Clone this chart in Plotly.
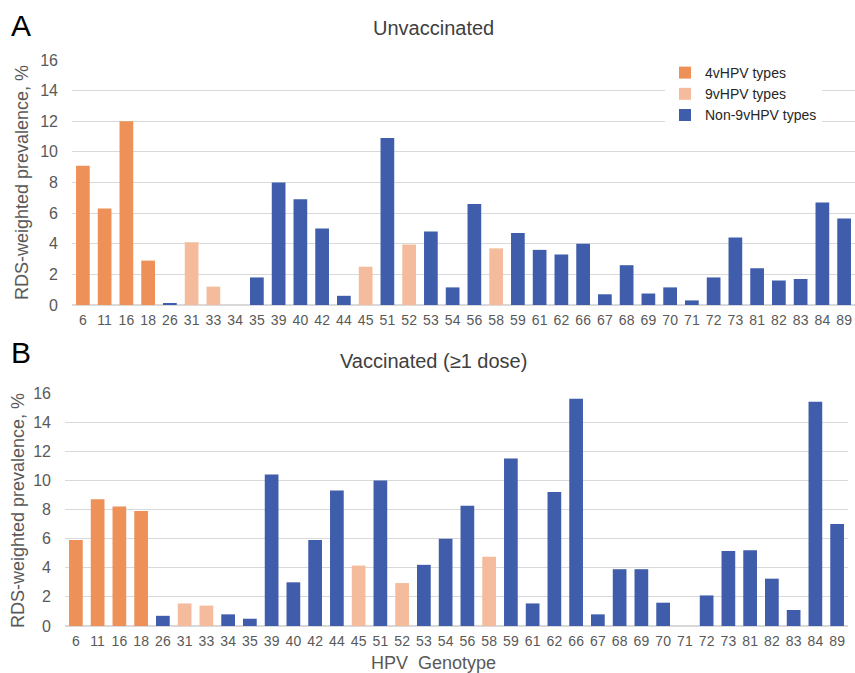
import plotly.graph_objects as go

genotypes = ["6", "11", "16", "18", "26", "31", "33", "34", "35", "39", "40", "42", "44", "45",
             "51", "52", "53", "54", "56", "58", "59", "61", "62", "66", "67", "68", "69", "70",
             "71", "72", "73", "81", "82", "83", "84", "89"]

unvaccinated = [9.1, 6.3, 12.0, 2.9, 0.07, 4.1, 1.2, 0.0, 1.8, 8.0, 6.9, 5.0, 0.6, 2.5,
                10.9, 3.95, 4.8, 1.15, 6.6, 3.7, 4.7, 3.6, 3.3, 4.0, 0.7, 2.6, 0.75, 1.15,
                0.3, 1.8, 4.4, 2.4, 1.6, 1.7, 6.7, 5.65]

vaccinated = [5.9, 8.7, 8.2, 7.9, 0.7, 1.55, 1.4, 0.8, 0.5, 10.4, 3.0, 5.9, 9.3, 4.15,
              10.0, 2.95, 4.2, 6.0, 8.25, 4.75, 11.5, 1.55, 9.2, 15.6, 0.8, 3.9, 3.9, 1.6,
              0.0, 2.1, 5.15, 5.2, 3.25, 1.1, 15.4, 7.0]

four_v_types = ["6", "11", "16", "18"]
nine_v_types = ["31", "33", "45", "52", "58"]

group_names = ["4vHPV types", "9vHPV types", "Non-9vHPV types"]
group_colors = ["#EE9159", "#F4BC9D", "#3F5DAB"]

y_ticks = [0, 2, 4, 6, 8, 10, 12, 14, 16]


def group_of(g):
    if g in four_v_types:
        return 0
    if g in nine_v_types:
        return 1
    return 2


W, H = 855, 673


def fx(X):
    return X / W


def fy(Y):
    return 1 - Y / H


fig = go.Figure()

panels = [
    (unvaccinated, "x", "y", True),
    (vaccinated, "x2", "y2", False),
]

for values, xa, ya, show in panels:
    for gi, name in enumerate(group_names):
        xs = [g for g in genotypes if group_of(g) == gi]
        ys = [v for g, v in zip(genotypes, values) if group_of(g) == gi]
        fig.add_trace(go.Bar(
            x=xs, y=ys, name=name, xaxis=xa, yaxis=ya,
            marker=dict(color=group_colors[gi], line=dict(width=0)),
            showlegend=show, legendgroup=name,
        ))

FONT = "Liberation Sans, Arial, sans-serif"
tick_font = dict(family=FONT, size=16, color="#595959")
xtick_font = dict(family=FONT, size=14, color="#595959")
title_font = dict(family=FONT, size=18, color="#595959")

common_x = dict(type="category", categoryorder="array", categoryarray=genotypes,
                tickfont=xtick_font, showgrid=False, showline=False, ticks="",
                ticklabelstandoff=5, automargin=False, fixedrange=True)
common_y = dict(range=[0, 16], tickvals=y_ticks, tickfont=tick_font, showgrid=True,
                gridcolor="#D9D9D9", gridwidth=1, zeroline=True, zerolinecolor="#D9D9D9",
                showline=False, ticks="", automargin=False, ticklabelstandoff=13)

fig.update_layout(
    width=W, height=H,
    margin=dict(l=0, r=0, t=0, b=0),
    paper_bgcolor="white", plot_bgcolor="white",
    barmode="overlay", bargap=0.37,
    font=dict(family=FONT),
    xaxis=dict(domain=[fx(72), fx(855)], anchor="y", **common_x),
    yaxis=dict(domain=[fy(305), fy(60)], anchor="x", **common_y),
    xaxis2=dict(domain=[fx(65), fx(848)], anchor="y2", **common_x),
    yaxis2=dict(domain=[fy(626), fy(393)], anchor="x2", **common_y),
    legend=dict(x=fx(665), y=fy(57), xanchor="left", yanchor="top",
                bgcolor="white", font=dict(family=FONT, size=14, color="#262626"),
                tracegroupgap=0, itemclick=False),
    annotations=[
        dict(text="A", x=fx(9), y=fy(26), xref="paper", yref="paper", showarrow=False,
             xanchor="left", yanchor="middle", font=dict(family=FONT, size=30, color="black")),
        dict(text="B", x=fx(9), y=fy(352), xref="paper", yref="paper", showarrow=False,
             xanchor="left", yanchor="middle", font=dict(family=FONT, size=30, color="black")),
        dict(text="Unvaccinated", x=fx(433), y=fy(28), xref="paper", yref="paper",
             showarrow=False, xanchor="center", yanchor="middle",
             font=dict(family=FONT, size=20, color="#404040")),
        dict(text="Vaccinated (≥1 dose)", x=fx(433), y=fy(361), xref="paper", yref="paper",
             showarrow=False, xanchor="center", yanchor="middle",
             font=dict(family=FONT, size=20, color="#404040")),
        dict(text="RDS-weighted prevalence, %", x=fx(22), y=fy(183), xref="paper",
             yref="paper", showarrow=False, textangle=-90, xanchor="center",
             yanchor="middle", font=title_font),
        dict(text="RDS-weighted prevalence, %", x=fx(18), y=fy(511), xref="paper",
             yref="paper", showarrow=False, textangle=-90, xanchor="center",
             yanchor="middle", font=title_font),
        dict(text="HPV  Genotype", x=fx(434), y=fy(651), xref="paper", yref="paper",
             showarrow=False, xanchor="center", yanchor="top", font=title_font),
    ],
)

fig.write_html(
    "out.html",
    config={"displayModeBar": False},
    post_script="document.body.style.margin='0';document.body.style.overflow='hidden';",
)
